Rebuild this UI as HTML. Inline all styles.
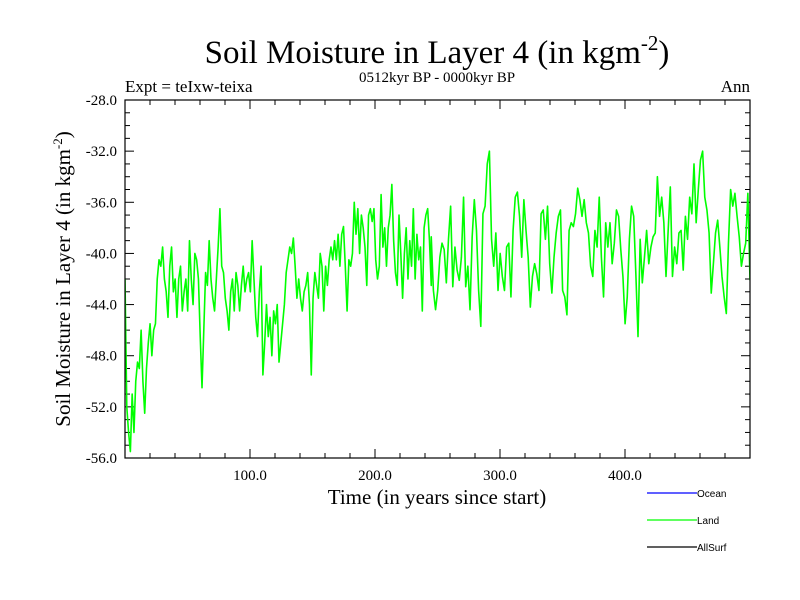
<!DOCTYPE html>
<html><head><meta charset="utf-8"><style>
body{margin:0;background:#fff}
svg{display:block}
.s{font-family:"Liberation Serif",serif;fill:#000}
.a{font-family:"Liberation Sans",sans-serif;fill:#000}
</style></head><body>
<svg id="chart" width="800" height="600">
<rect width="800" height="600" fill="#fff"/>
<text class="s" x="437" y="63" font-size="33" text-anchor="middle">Soil Moisture in Layer 4 (in kgm<tspan font-size="21" dy="-13">-2</tspan><tspan dy="13">)</tspan></text>
<text class="s" x="125" y="92" font-size="17">Expt = teIxw-teixa</text>
<text class="s" x="437" y="82" font-size="15" text-anchor="middle">0512kyr BP - 0000kyr BP</text>
<text class="s" x="750" y="92" font-size="17" text-anchor="end">Ann</text>
<text class="s" x="437" y="504" font-size="21" text-anchor="middle">Time (in years since start)</text>
<text class="s" transform="translate(70,279) rotate(-90)" font-size="21" text-anchor="middle">Soil Moisture in Layer 4 (in kgm<tspan font-size="13" dy="-8">-2</tspan><tspan dy="8">)</tspan></text>
<g id="ticks"></g>
<clipPath id="clip"><rect x="125" y="100" width="625" height="358"/></clipPath>
<g id="series" clip-path="url(#clip)"></g>
<rect x="125" y="100" width="625" height="358" fill="none" stroke="#000" stroke-width="1.2"/>
<g id="legend"></g>
</svg>
<script>
const yTicks = [-56, -52, -48, -44, -40, -36, -32, -28];
const xTicks = [100, 200, 300, 400];
const xDomain = [0, 500];
const yDomain = [-56, -28];
const segAYears = [0, 245];
const landA = [-42,-52,-54,-55.5,-51,-54,-50,-48.5,-49,-46,-50,-52.5,-49,-47,-45.5,-48,-46,-45.5,-42,-40.5,-41,-39.5,-42,-43,-45,-41,-39.5,-43,-42,-45,-42,-41,-44.5,-43,-42,-44.5,-39,-42,-44,-40,-40.5,-42,-46.5,-50.5,-46,-41.5,-42.5,-39,-42,-43.5,-44.5,-42,-39.5,-36.5,-41,-41.5,-43.5,-44.5,-46,-43,-42,-44.5,-41.5,-42.5,-44.5,-42.5,-41,-43,-42,-41.5,-43,-39,-42,-45,-46.5,-43,-41,-49.5,-47,-44,-46.5,-45,-48,-44.5,-45.5,-44,-48.5,-47,-45.5,-44,-41.5,-40.5,-39.5,-40,-38.8,-41,-43.5,-42,-43.5,-44.5,-43,-42.5,-41.5,-44,-49.5,-43.5,-41.5,-42.5,-43.5,-40,-41,-44.5,-41,-42.5,-40.5,-39.5,-40.5,-39,-40.5,-38.5,-41,-38.5,-37.9,-41,-44.5,-40.5,-41,-40,-36,-38.5,-36.5,-40,-37,-38,-39.5,-42.5,-37,-36.5,-37.5,-36.5,-40.5,-42,-41,-35.4,-39.5,-38,-41,-38,-37,-34.6,-39,-41.5,-42.5,-37,-40,-43.5,-40,-38,-42,-39,-41,-36.5,-42,-38.5,-40.5,-39.5,-44.5,-38,-37,-36.5,-39,-42.5];
const segBYears = [245, 500];
const landB = [-38.7,-42.9,-44.4,-42.9,-40.3,-39.2,-39.7,-42.3,-38.9,-36.3,-42.6,-39.5,-41.3,-42.1,-40.3,-35.6,-42.6,-41.0,-44.4,-38.7,-35.8,-38.2,-42.9,-45.7,-36.9,-36.3,-33.0,-32.0,-38.9,-41.0,-38.4,-42.9,-40.0,-41.8,-42.9,-39.5,-39.2,-43.4,-38.2,-35.6,-35.2,-37.1,-40.3,-35.8,-38.2,-40.3,-44.2,-41.8,-40.8,-41.6,-42.9,-36.9,-36.6,-38.9,-36.3,-40.8,-43.1,-40.3,-38.4,-37.1,-36.6,-42.9,-43.4,-44.8,-38.2,-37.6,-37.9,-36.9,-34.9,-35.8,-37.1,-35.8,-37.6,-38.4,-41.0,-41.8,-38.2,-39.5,-35.6,-40.3,-43.4,-37.6,-39.5,-37.6,-40.8,-39.2,-36.6,-37.1,-39.7,-41.8,-45.5,-43.4,-38.9,-36.3,-37.1,-41.6,-46.5,-38.9,-42.3,-40.3,-38.2,-40.8,-39.5,-38.7,-38.4,-34.0,-37.1,-35.6,-37.6,-41.8,-38.2,-34.8,-41.8,-39.5,-40.8,-38.4,-38.2,-41.3,-37.1,-38.9,-35.6,-36.9,-33.0,-37.6,-35.0,-32.7,-32.0,-35.6,-36.6,-38.4,-43.1,-40.8,-38.4,-37.4,-39.5,-41.8,-43.4,-44.7,-39.2,-35.0,-36.3,-35.3,-37.1,-38.7,-41.0,-40.0,-39.2,-35.3,-42.1];
const legendNames = ["Ocean", "Land", "AllSurf"];
const legendColors = ["#0000ff", "#00ff00", "#000000"];

const NS = "http://www.w3.org/2000/svg";
const L = 125, R = 750, T = 100, B = 458;
function sx(v){ return L + (v - xDomain[0]) / (xDomain[1] - xDomain[0]) * (R - L); }
function sy(v){ return B - (v - yDomain[0]) / (yDomain[1] - yDomain[0]) * (B - T); }
function mk(tag, attrs){ const e = document.createElementNS(NS, tag); for (const k in attrs) e.setAttribute(k, attrs[k]); return e; }

const tg = document.getElementById('ticks');
for (let v = yDomain[0]; v <= yDomain[1]; v += 1) {
  const major = (v - yDomain[0]) % 4 === 0;
  const len = major ? 9 : 5;
  const y = sy(v);
  const t1 = mk('line', {x1: L, x2: L + len, y1: y, y2: y, stroke: '#000'});
  
  
  tg.appendChild(t1);
  const t2 = mk('line', {x1: R, x2: R - len, y1: y, y2: y, stroke: '#000'});
  
  
  tg.appendChild(t2);
}
yTicks.forEach(v => {
  const t = mk('text', {x: 117, y: sy(v) + 5, 'font-size': 15, 'text-anchor': 'end', class: 's'});
  t.textContent = v.toFixed(1);
  
  
  tg.appendChild(t);
});
for (let v = 20; v < xDomain[1]; v += 20) {
  const major = v % 100 === 0;
  const len = major ? 9 : 5;
  const x = sx(v);
  const t1 = mk('line', {x1: x, x2: x, y1: B, y2: B - len, stroke: '#000'});
  
  
  tg.appendChild(t1);
  const t2 = mk('line', {x1: x, x2: x, y1: T, y2: T + len, stroke: '#000'});
  
  
  tg.appendChild(t2);
}
xTicks.forEach(v => {
  const t = mk('text', {x: sx(v), y: 480, 'font-size': 15, 'text-anchor': 'middle', class: 's'});
  t.textContent = v.toFixed(1);
  
  
  tg.appendChild(t);
});

function segPts(vals, yrs){
  const n = vals.length;
  return vals.map((v, i) => sx(yrs[0] + (yrs[1] - yrs[0]) * i / (n - 1)).toFixed(2) + ',' + sy(v).toFixed(2));
}
const pts = segPts(landA, segAYears).concat(segPts(landB, segBYears));
const line = mk('polyline', {points: pts.join(' '), fill: 'none', stroke: '#00ff00', 'stroke-width': 1.6, 'stroke-linejoin': 'round'});


document.getElementById('series').appendChild(line);

const lg = document.getElementById('legend');
legendNames.forEach((n, i) => {
  const y = 493 + i * 27;
  const ln = mk('line', {x1: 647, x2: 697, y1: y, y2: y, stroke: legendColors[i], 'stroke-width': 1.2});
  
  
  lg.appendChild(ln);
  const t = mk('text', {x: 697, y: y + 4, 'font-size': 10, class: 'a'});
  t.textContent = n;
  
  
  lg.appendChild(t);
});
</script>
</body></html>
